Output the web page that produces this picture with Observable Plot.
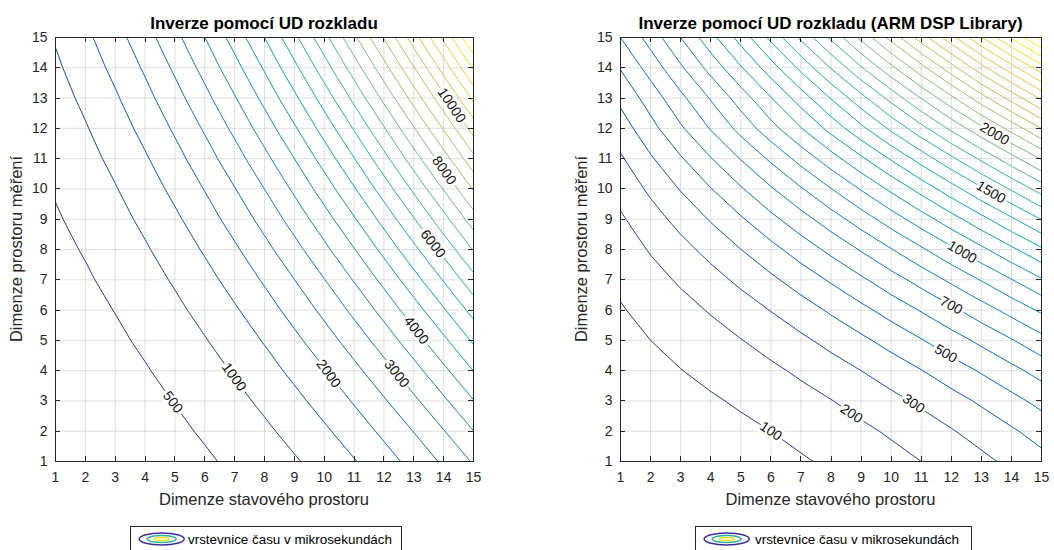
<!DOCTYPE html>
<html><head><meta charset="utf-8">
<script src="https://cdn.jsdelivr.net/npm/d3@7"></script>
<script src="https://cdn.jsdelivr.net/npm/@observablehq/plot@0.6"></script>
<style>
body{margin:0;background:#fff}
#root{position:relative;width:1054px;height:550px;overflow:hidden;background:#fff}
.panel{position:absolute}
#overlay{position:absolute;left:0;top:0;pointer-events:none}
</style></head><body><div id="root"></div>
<script>
// ---------------- DATA ----------------
const axisTicks = [1,2,3,4,5,6,7,8,9,10,11,12,13,14,15];

// Left chart: time [us] per state dimension (x = 1..15); each inner array runs over measurement dimension 1..15
const udTimesByStateDim = [
  [133,145,165,194,230,275,327,388,457,534,619,712,813,922,1040],
  [154,178,213,257,311,375,449,532,626,729,842,965,1098,1240,1392],
  [192,233,285,349,424,511,609,719,840,973,1118,1274,1441,1621,1811],
  [251,311,384,470,570,683,810,949,1102,1268,1448,1641,1847,2066,2299],
  [333,415,513,625,753,895,1053,1226,1414,1617,1835,2069,2317,2581,2859],
  [441,548,673,814,973,1148,1341,1551,1777,2021,2281,2559,2854,3166,3494],
  [578,713,868,1041,1234,1445,1676,1926,2195,2482,2789,3115,3460,3824,4207],
  [746,912,1099,1308,1537,1788,2060,2354,2668,3004,3360,3739,4138,4558,5000],
  [949,1148,1371,1617,1886,2180,2496,2837,3200,3588,3998,4433,4891,5372,5877],
  [1189,1423,1684,1970,2283,2621,2986,3377,3793,4236,4705,5199,5720,6267,6839],
  [1469,1741,2042,2372,2730,3117,3533,3977,4450,4952,5482,6041,6629,7246,7891],
  [1793,2105,2448,2823,3230,3668,4138,4640,5173,5738,6334,6962,7621,8312,9035],
  [2162,2516,2904,3328,3786,4278,4806,5368,5965,6596,7262,7963,8699,9469,10274],
  [2579,2977,3414,3888,4400,4950,5538,6164,6828,7530,8270,9048,9864,10718,11609],
  [3049,3493,3979,4506,5075,5685,6337,7030,7765,8542,9359,10219,11120,12062,13046]
];
const udLevels = [500,1000,1500,2000,2500,3000,3500,4000,4500,5000,5500,6000,6500,7000,7500,8000,8500,9000,9500,10000,10500,11000,11500,12000,12500,13000];
const udLabelLevels = [500,1000,2000,3000,4000,6000,8000,10000];
const udLabelAtMeasDim = [2.96,3.79,3.90,3.90,5.33,8.19,10.61,12.76];

// Right chart: time [us] per measurement dimension (y = 1..15); each inner array runs over state dimension 1..15
const armTimesByMeasDim = [
  [39,40,43,49,59,73,91,113,138,167,200,237,277,321,369],
  [42,48,56,66,81,100,123,149,180,213,251,293,338,387,439],
  [49,60,74,90,111,136,165,197,233,273,317,364,415,470,529],
  [59,78,98,122,149,181,217,257,300,347,397,452,510,572,638],
  [73,100,129,161,197,237,281,329,380,435,494,557,623,693,767],
  [93,129,167,208,254,303,356,414,474,539,607,679,755,834,917],
  [118,165,213,265,321,381,445,512,583,659,737,820,906,996,1090],
  [149,208,268,331,399,470,546,625,708,795,885,979,1077,1179,1284],
  [187,259,332,408,488,573,661,753,849,949,1052,1159,1269,1384,1502],
  [233,319,406,496,590,689,791,897,1007,1120,1237,1358,1483,1611,1744],
  [288,388,490,595,705,818,936,1057,1182,1310,1443,1579,1719,1862,2009],
  [351,467,586,707,833,963,1096,1234,1375,1520,1668,1821,1977,2137,2300],
  [423,545,675,808,948,1095,1248,1405,1567,1733,1903,2078,2259,2436,2617],
  [506,640,785,935,1090,1255,1425,1605,1790,1975,2165,2360,2564,2760,2959],
  [600,740,900,1065,1240,1425,1620,1820,2025,2235,2450,2665,2895,3110,3329]
];
const armLevels = d3.range(100, 3301, 100);
const armLabelLevels = [100,200,300,500,700,1000,1500,2000];
const armLabelAtMeasDim = [2.0,2.58,2.91,4.56,6.15,7.91,9.89,11.82];

const titles = ["Inverze pomocí UD rozkladu", "Inverze pomocí UD rozkladu (ARM DSP Library)"];
const xTitle = "Dimenze stavového prostoru";
const yTitle = "Dimenze prostoru měření";
const legendText = "vrstevnice času v mikrosekundách";

// ---------------- STYLE ----------------
const FONT = "'Liberation Sans', Arial, Helvetica, sans-serif";
const AX = "#262626";
const parula = ["#352a87","#0363e1","#1485d4","#06a7c6","#38b99e","#92bf73","#d9ba56","#fcce2e","#f9fb0e"];

function makeZ(kind) {
  return kind === "ud" ? (i, j) => udTimesByStateDim[i][j] : (i, j) => armTimesByMeasDim[j][i];
}
function bilinear(z, x, y) {
  const i = Math.min(Math.max(Math.floor(x - 1), 0), 13);
  const j = Math.min(Math.max(Math.floor(y - 1), 0), 13);
  const tx = x - 1 - i, ty = y - 1 - j;
  const a = z(i, j), b = z(i + 1, j), c = z(i, j + 1), d = z(i + 1, j + 1);
  return (a * (1 - tx) + b * tx) * (1 - ty) + (c * (1 - tx) + d * tx) * ty;
}
function labelData(z, levels, rows, kx, ky) {
  const out = [];
  levels.forEach((L, k) => {
    const y = rows[k];
    let prev = bilinear(z, 1, y), xs = null;
    for (let x = 1.005; x <= 15; x += 0.005) {
      const v = bilinear(z, x, y);
      if ((prev - L) * (v - L) <= 0) { xs = x - 0.005 * (v - L) / (v - prev || 1); break; }
      prev = v;
    }
    if (xs == null) return;
    const h = 0.05;
    const gx = (bilinear(z, xs + h, y) - bilinear(z, xs - h, y)) / (2 * h);
    const gy = (bilinear(z, xs, y + h) - bilinear(z, xs, y - h)) / (2 * h);
    let px = gy * kx, py = gx * ky;
    if (px < 0) { px = -px; py = -py; }
    out.push({x: xs, y, text: String(L), angle: Math.atan2(py, px) * 180 / Math.PI});
  });
  return out;
}
function innerTicks(ticks) {
  return (index, scales, values, dims) => {
    const L = dims.marginLeft, R = dims.width - dims.marginRight;
    const T = dims.marginTop, B = dims.height - dims.marginBottom;
    const g = d3.create("svg:g").attr("stroke", AX).attr("fill", "none").attr("stroke-width", 1);
    const t = 5;
    for (const v of ticks) {
      const px = Math.round(scales.x(v)) + 0.5, py = Math.round(scales.y(v)) + 0.5;
      g.append("line").attr("x1", px).attr("x2", px).attr("y1", B).attr("y2", B - t);
      g.append("line").attr("x1", px).attr("x2", px).attr("y1", T).attr("y2", T + t);
      g.append("line").attr("y1", py).attr("y2", py).attr("x1", L).attr("x2", L + t);
      g.append("line").attr("y1", py).attr("y2", py).attr("x1", R).attr("x2", R - t);
    }
    return g.node();
  };
}

function panel({kind, left, width, marginLeft, marginRight, levels, labelLevels, labelRows}) {
  const height = 500, marginTop = 17, marginBottom = 59;
  const z = makeZ(kind);
  const values = [];
  for (let j = 0; j < 15; j++) for (let i = 0; i < 15; i++) values.push(z(i, j));
  const [zmin, zmax] = d3.extent(values);
  const colorDomain = parula.map((_, k) => zmin + (zmax - zmin) * k / (parula.length - 1));
  const kx = (width - marginLeft - marginRight) / 14;
  const ky = (height - marginTop - marginBottom) / 14;
  const labels = labelData(z, labelLevels, labelRows, kx, ky);
  const svg = Plot.plot({
    width, height, marginLeft, marginRight, marginTop, marginBottom,
    x: {domain: [1, 15], label: null},
    y: {domain: [1, 15], label: null},
    color: {type: "linear", domain: colorDomain, range: parula, interpolate: "rgb"},
    style: {fontFamily: FONT, fontSize: "14px", color: AX, background: "transparent", overflow: "visible"},
    marks: [
      Plot.gridX(axisTicks, {stroke: AX, strokeOpacity: 0.15}),
      Plot.gridY(axisTicks, {stroke: AX, strokeOpacity: 0.15}),
      Plot.contour(values, {width: 15, height: 15, x1: 0.5, x2: 15.5, y1: 0.5, y2: 15.5,
        thresholds: levels, stroke: Plot.identity, fill: "none", strokeWidth: 1, clip: true}),
      Plot.text(labels, {x: "x", y: "y", text: "text", rotate: "angle", fontSize: 14,
        fill: "#111", stroke: "white", strokeWidth: 6, paintOrder: "stroke"}),
      Plot.frame({stroke: AX}),
      Plot.axisX(axisTicks, {tickSize: 0, tickPadding: 11, fontSize: 14, label: null, fill: AX}),
      Plot.axisY(axisTicks, {tickSize: 0, tickPadding: 8, fontSize: 14, label: null, fill: AX}),
      innerTicks(axisTicks)
    ]
  });
  svg.classList.add("panel");
  svg.style.left = left + "px";
  svg.style.top = "20px";
  return svg;
}

const root = document.getElementById("root");
root.appendChild(panel({kind: "ud", left: 0, width: 500, marginLeft: 55, marginRight: 27,
  levels: udLevels, labelLevels: udLabelLevels, labelRows: udLabelAtMeasDim}));
root.appendChild(panel({kind: "arm", left: 527, width: 527, marginLeft: 93, marginRight: 13,
  levels: armLevels, labelLevels: armLabelLevels, labelRows: armLabelAtMeasDim}));

// ---------------- OVERLAY: titles, axis labels, legends ----------------
const ov = d3.select(root).append("svg").attr("id", "overlay").attr("width", 1054).attr("height", 550)
  .style("font-family", FONT);
const centers = [264, 830.5];
const yLabelX = [22, 587];
centers.forEach((cx, k) => {
  ov.append("text").attr("x", cx).attr("y", 29).attr("text-anchor", "middle")
    .attr("font-weight", "bold").attr("font-size", 17).attr("fill", "#000").text(titles[k]);
  ov.append("text").attr("x", cx).attr("y", 505).attr("text-anchor", "middle")
    .attr("font-size", 16.5).attr("fill", AX).text(xTitle);
  ov.append("text").attr("transform", `translate(${yLabelX[k]},249) rotate(-90)`).attr("text-anchor", "middle")
    .attr("font-size", 16.5).attr("fill", AX).text(yTitle);
});
const legends = [{x: 130.5, w: 271, icon: 161.7, tx: 188}, {x: 695.5, w: 276, icon: 726.7, tx: 755}];
legends.forEach(l => {
  const g = ov.append("g");
  g.append("rect").attr("x", l.x).attr("y", 526.5).attr("width", l.w).attr("height", 24)
    .attr("fill", "#fff").attr("stroke", AX);
  g.append("ellipse").attr("cx", l.icon).attr("cy", 539).attr("rx", 22.5).attr("ry", 6)
    .attr("fill", "none").attr("stroke", "#3d2e9c").attr("stroke-width", 1.5);
  g.append("ellipse").attr("cx", l.icon).attr("cy", 539).attr("rx", 14.5).attr("ry", 3.6)
    .attr("fill", "none").attr("stroke", "#2db3a6").attr("stroke-width", 1.5);
  g.append("ellipse").attr("cx", l.icon).attr("cy", 539).attr("rx", 7.5).attr("ry", 1.6)
    .attr("fill", "none").attr("stroke", "#f2e41c").attr("stroke-width", 1.5);
  g.append("text").attr("x", l.tx).attr("y", 544).attr("font-size", 13.4).attr("fill", "#000").text(legendText);
});
</script></body></html>
